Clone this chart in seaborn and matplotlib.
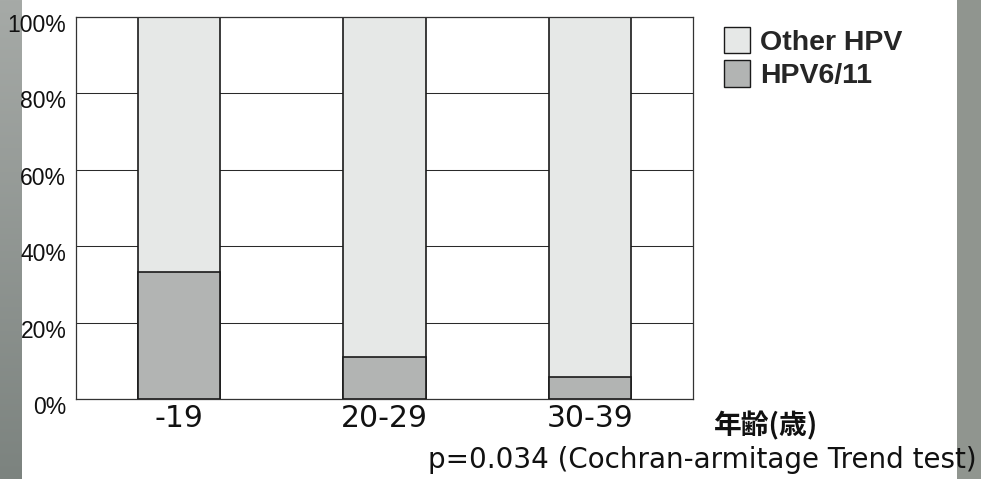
import numpy as np
import pandas as pd
import matplotlib
matplotlib.use("Agg")
import matplotlib.pyplot as plt
from matplotlib.patches import Patch, Rectangle
from matplotlib.transforms import ScaledTranslation
import seaborn as sns

# ---- data ----
age_groups = ["-19", "20-29", "30-39"]
hpv6_11 = [33.3, 11.0, 5.8]
other_hpv = [66.7, 89.0, 94.2]
y_ticks = [0, 20, 40, 60, 80, 100]
series_labels = ["Other HPV", "HPV6/11"]
x_title = "年齢(歳)"
footnote = "p=0.034 (Cochran-armitage Trend test)"

df = pd.DataFrame({"age": age_groups, "hpv6_11": hpv6_11, "other": other_hpv})
df["total"] = df["hpv6_11"] + df["other"]

sns.set_style("white")
plt.rcParams["font.family"] = ["DejaVu Sans", "Noto Sans CJK JP"]

W, H = 981, 479
fig = plt.figure(figsize=(W / 100, H / 100), dpi=100)
fig.patch.set_facecolor("white")

# textured side strips (decoration)
grad_ax = fig.add_axes([0, 0, 22 / W, 1], zorder=-2)
grad = np.linspace(0, 1, 256).reshape(-1, 1)
grad_ax.imshow(grad, aspect="auto", cmap=matplotlib.colors.LinearSegmentedColormap.from_list(
    "g", ["#a6aaa7", "#7c837f"]), extent=[0, 1, 0, 1], origin="upper")
grad_ax.set_axis_off()
fig.patches.append(Rectangle((957 / W, 0), 1 - 957 / W, 1, transform=fig.transFigure,
                             facecolor="#90958f", edgecolor="none", zorder=-1))

light = "#e6e8e7"
dark = "#b2b4b3"
edge = "#1a1a1a"

ax = fig.add_axes([76 / W, 1 - 399 / H, (693 - 76) / W, (399 - 17) / H])
sns.barplot(data=df, x="age", y="total", color=light, width=0.4, saturation=1,
            edgecolor=edge, linewidth=1.2, ax=ax, zorder=2)
sns.barplot(data=df, x="age", y="hpv6_11", color=dark, width=0.4, saturation=1,
            edgecolor=edge, linewidth=1.2, ax=ax, zorder=3)

ax.set_xlim(-0.5, 2.5)
ax.set_ylim(0, 100)
ax.set_yticks(y_ticks)
ax.set_yticklabels([f"{v}%" for v in y_ticks], fontsize=16.5, color="#111111",
                   family="Liberation Sans")
ax.set_xlabel("")
ax.set_ylabel("")
ax.set_axisbelow(True)
ax.yaxis.grid(True, color="#2a2a2a", linewidth=0.75)
ax.xaxis.grid(False)
for s in ax.spines.values():
    s.set_visible(True)
    s.set_color("#333333")
    s.set_linewidth(0.9)
ax.tick_params(axis="y", length=0, pad=7)
ax.tick_params(axis="x", which="major", length=0, pad=3.5, labelsize=21.5, labelcolor="#111111")
ax.set_xticks([0.5, 1.5], minor=True)
ax.tick_params(axis="x", which="minor", direction="in", length=4.5, width=0.8, color="#333333")

off = ScaledTranslation(0, -0.06, fig.dpi_scale_trans)
for lab in ax.get_yticklabels():
    lab.set_transform(lab.get_transform() + off)

leg_size = 20.5
fs_px = leg_size * 100 / 72
handles = [Patch(facecolor=light, edgecolor=edge, linewidth=1.0, label=series_labels[0]),
           Patch(facecolor=dark, edgecolor=edge, linewidth=1.0, label=series_labels[1])]
fig.legend(handles=handles, loc="upper left", bbox_to_anchor=(724 / W, 1 - 27 / H),
           frameon=False, borderpad=0, borderaxespad=0, labelspacing=0.15,
           handlelength=26 / fs_px, handleheight=30 / fs_px, handletextpad=10 / fs_px,
           prop={"family": "Liberation Sans", "weight": "bold", "size": leg_size})

fig.text(766 / W, 1 - 426 / H, x_title, ha="center", va="center", fontsize=20,
         fontweight="bold", family=["Noto Sans CJK JP"], color="#111111")
fig.text(428 / W, 1 - 468 / H, footnote, ha="left", va="baseline", fontsize=20,
         color="#111111", zorder=5)

fig.savefig("out.png", dpi=100)
